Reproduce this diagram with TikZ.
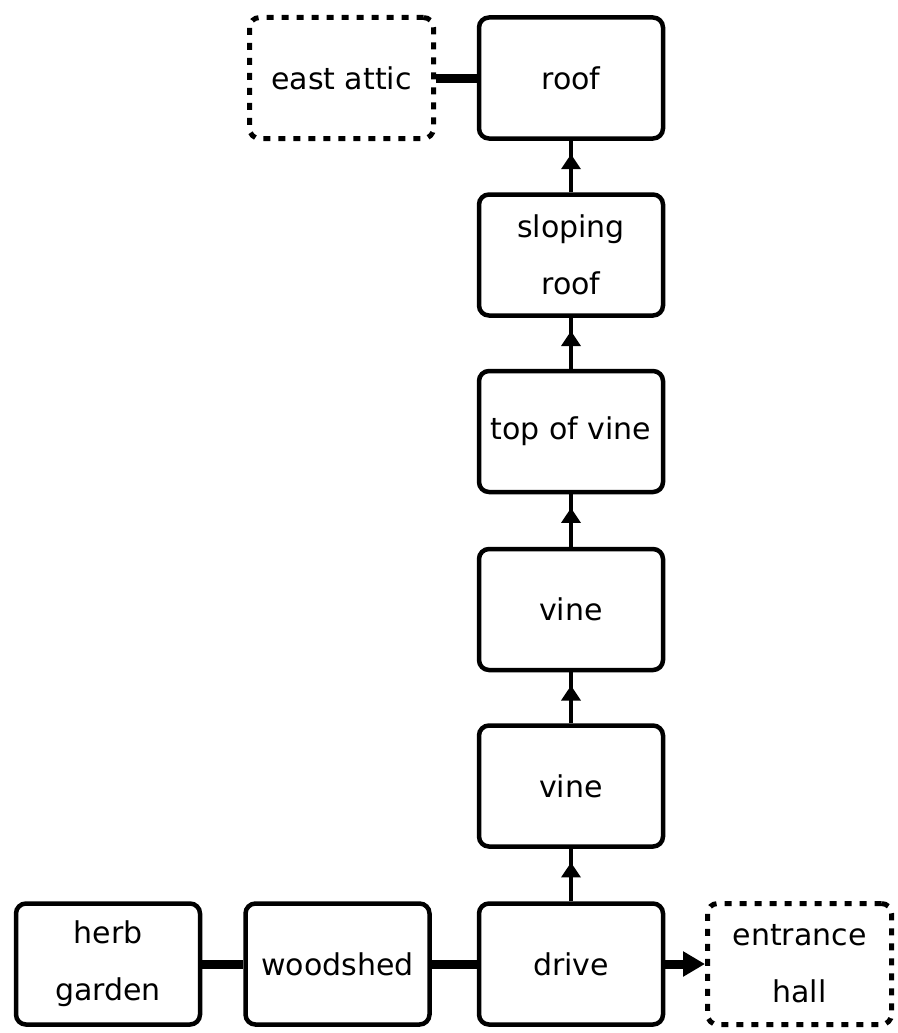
\documentclass[tikz,border=0pt]{standalone}
\usepackage{fontspec}
\setmainfont{DejaVu Sans}
\usetikzlibrary{arrows.meta,decorations.markings}
\tikzset{
  room/.style={draw=black, line width=4.5pt, rounded corners=10pt, minimum width=184pt, minimum height=121pt, align=center, inner sep=0pt, font=\fontsize{30}{57}\selectfont},
  faroom/.style={room, dash pattern=on 7pt off 8pt, line width=5pt},
  link/.style={line width=9pt},
  exitlink/.style={line width=9pt, -{Triangle[length=22pt,width=24pt]}},
  uplink/.style={line width=3.5pt, postaction={decorate}, decoration={markings, mark=at position 0.74 with {\arrow{Triangle[length=15pt,width=19pt]}}}}
}
\begin{document}
\begin{tikzpicture}[x=1pt,y=-1pt]
\useasboundingbox (0,0) rectangle (897,1033);
\node[faroom] (attic) at (341.5,78) {east attic};
\node[room] (roof) at (571,78) {roof};
\node[room] (sloping) at (571,255) {sloping\\roof};
\node[room] (top) at (571,431.5) {top of vine};
\node[room] (vineA) at (571,609.5) {vine};
\node[room] (vineB) at (571,786) {vine};
\node[room] (drive) at (571,964) {drive};
\node[room] (woodshed) at (337.5,964) {woodshed};
\node[room] (herb) at (108,964) {herb\\garden};
\node[faroom] (hall) at (799.5,964) {entrance\\hall};
\draw[link] (attic.east) -- (roof.west);
\draw[uplink] (sloping.north) -- (roof.south);
\draw[uplink] (top.north) -- (sloping.south);
\draw[uplink] (vineA.north) -- (top.south);
\draw[uplink] (vineB.north) -- (vineA.south);
\draw[uplink] (drive.north) -- (vineB.south);
\draw[link] (herb.east) -- (woodshed.west);
\draw[link] (woodshed.east) -- (drive.west);
\draw[exitlink] (drive.east) -- (hall.west);
\end{tikzpicture}
\end{document}
